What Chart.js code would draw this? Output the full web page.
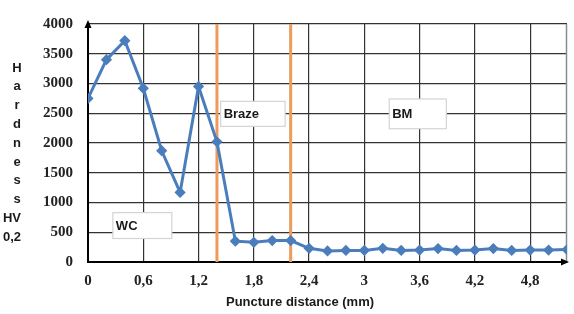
<!DOCTYPE html>
<html lang="en">
<head>
    <meta charset="UTF-8">
    <title>Hardness profile</title>
    <script src="https://cdn.jsdelivr.net/npm/chart.js"></script>
</head>
<style>
    body { margin: 0; background: #fff; }
    #hardnessChart { display: block; }
</style>
<body>
    <canvas id="hardnessChart" width="574" height="314"></canvas>

    <script>
        // puncture distance in mm
        const distances = [0, 0.2, 0.4, 0.6, 0.8, 1.0, 1.2, 1.4, 1.6, 1.8, 2.0, 2.2, 2.4, 2.6,
            2.8, 3.0, 3.2, 3.4, 3.6, 3.8, 4.0, 4.2, 4.4, 4.6, 4.8, 5.0, 5.2];
        // hardness HV 0,2
        const hardness = [2750, 3400, 3720, 2920, 1870, 1170, 2950, 2020, 350, 330, 360, 360, 230, 185,
            195, 195, 230, 195, 200, 225, 195, 200, 225, 195, 200, 200, 210];
        const xTickValues = [0, 0.6, 1.2, 1.8, 2.4, 3, 3.6, 4.2, 4.8];
        const yTickValues = [0, 500, 1000, 1500, 2000, 2500, 3000, 3500, 4000];
        // zone boundaries (orange lines) and zone labels
        const zoneBounds = [1.4, 2.2];
        const zoneLabels = ['WC', 'Braze', 'BM'];
        const yTitleParts = ['H', 'a', 'r', 'd', 'n', 'e', 's', 's', 'HV', '0,2'];
        const xTitle = 'Puncture distance (mm)';

        const tickFont = { family: 'Liberation Serif', size: 15, weight: 'bold' };

        const decoPlugin = {
            id: 'deco',
            beforeDatasetsDraw(chart) {
                const { ctx, chartArea, scales } = chart;
                const x = scales.x, y = scales.y;
                ctx.save();
                // right border of the plot
                ctx.strokeStyle = '#8a8a8a';
                ctx.lineWidth = 1.5;
                ctx.beginPath();
                ctx.moveTo(chartArea.right - 0.5, chartArea.top);
                ctx.lineTo(chartArea.right - 0.5, chartArea.bottom);
                ctx.stroke();

                // label boxes
                const boxes = [
                    { text: zoneLabels[0], x0: 0.27, x1: 0.91, y0: 830, y1: 395 },
                    { text: zoneLabels[1], x0: 1.44, x1: 2.14, y0: 2700, y1: 2280 },
                    { text: zoneLabels[2], x0: 3.27, x1: 3.89, y0: 2740, y1: 2240 }
                ];
                ctx.font = 'bold 13px "Liberation Sans"';
                ctx.textBaseline = 'middle';
                ctx.textAlign = 'left';
                boxes.forEach(b => {
                    const l = x.getPixelForValue(b.x0), r = x.getPixelForValue(b.x1);
                    const t = y.getPixelForValue(b.y0), btm = y.getPixelForValue(b.y1);
                    ctx.fillStyle = '#fff';
                    ctx.fillRect(l, t, r - l, btm - t);
                    ctx.strokeStyle = '#d4d4d4';
                    ctx.lineWidth = 1.2;
                    ctx.strokeRect(l, t, r - l, btm - t);
                    ctx.fillStyle = '#1a1a1a';
                    ctx.fillText(b.text, l + 3, (t + btm) / 2 + 1);
                });

                // orange zone lines
                ctx.strokeStyle = '#ed9b5a';
                ctx.lineWidth = 3;
                zoneBounds.forEach(v => {
                    const px = x.getPixelForValue(v);
                    ctx.beginPath();
                    ctx.moveTo(px, chartArea.top);
                    ctx.lineTo(px, chartArea.bottom);
                    ctx.stroke();
                });
                ctx.restore();
            },
            afterDraw(chart) {
                const { ctx, chartArea } = chart;
                ctx.save();
                // arrow heads on the axes
                ctx.fillStyle = '#000';
                ctx.beginPath();
                ctx.moveTo(chartArea.left, chartArea.top - 4);
                ctx.lineTo(chartArea.left - 3.5, chartArea.top + 4);
                ctx.lineTo(chartArea.left + 3.5, chartArea.top + 4);
                ctx.fill();
                ctx.beginPath();
                ctx.moveTo(chartArea.right + 2, chartArea.bottom);
                ctx.lineTo(chartArea.right - 6, chartArea.bottom - 3.5);
                ctx.lineTo(chartArea.right - 6, chartArea.bottom + 3.5);
                ctx.fill();

                // y title, stacked letters
                ctx.fillStyle = '#1a1a1a';
                ctx.font = 'bold 13px "Liberation Sans"';
                ctx.textAlign = 'center';
                ctx.textBaseline = 'middle';
                yTitleParts.forEach((s, i) => {
                    const cx = s.length > 1 ? 12 : 17;
                    ctx.fillText(s, cx, 68 + i * 18.8);
                });

                // x title
                ctx.fillText(xTitle, 300, 302);
                ctx.restore();
            }
        };

        const ctx = document.getElementById('hardnessChart').getContext('2d');
        const chart = new Chart(ctx, {
            type: 'line',
            data: {
                labels: distances,
                datasets: [{
                    data: distances.map((d, i) => ({ x: d, y: hardness[i] })),
                    borderColor: '#4a7dbb',
                    backgroundColor: '#4a7dbb',
                    borderWidth: 3,
                    pointStyle: 'rectRot',
                    pointRadius: 3.5,
                    tension: 0
                }]
            },
            options: {
                responsive: false,
                animation: false,
                layout: { padding: { top: 22, right: 2, left: 0, bottom: 0 } },
                plugins: {
                    legend: { display: false },
                    tooltip: { enabled: false }
                },
                scales: {
                    x: {
                        type: 'linear',
                        min: 0,
                        max: 5.2,
                        afterBuildTicks: axis => { axis.ticks = xTickValues.map(v => ({ value: v })); },
                        afterFit: axis => { axis.height = 52; },
                        grid: { color: '#333', lineWidth: 1.2, drawTicks: false },
                        border: { color: '#000', width: 2 },
                        ticks: {
                            padding: 10,
                            maxRotation: 0,
                            color: '#222',
                            font: tickFont,
                            callback: v => String(v).replace('.', ',')
                        }
                    },
                    y: {
                        min: 0,
                        max: 4000,
                        afterBuildTicks: axis => { axis.ticks = yTickValues.map(v => ({ value: v })); },
                        afterFit: axis => { axis.width = 88; },
                        grid: { color: '#333', lineWidth: 1.2, drawTicks: false },
                        border: { color: '#000', width: 2 },
                        ticks: {
                            padding: 15,
                            color: '#222',
                            font: tickFont,
                            callback: v => String(v)
                        }
                    }
                }
            },
            plugins: [decoPlugin]
        });
    </script>
</body>
</html>
